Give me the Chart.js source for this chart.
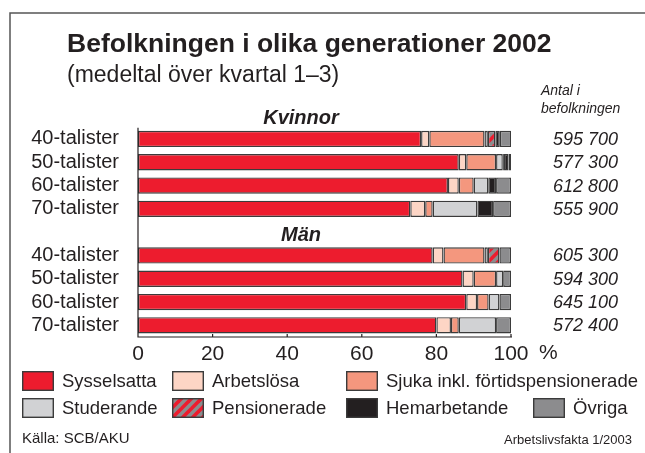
<!DOCTYPE html>
<html><head><meta charset="utf-8">
<script src="https://cdn.jsdelivr.net/npm/chart.js@4"></script>
<style>html,body{margin:0;padding:0;background:#fff}#wrap{width:645px;height:453px;position:relative}canvas{display:block}</style>
</head><body><div id="wrap"><canvas id="c" width="645" height="453"></canvas></div>
<script>
const titleText = 'Befolkningen i olika generationer 2002';
const subtitleText = '(medeltal över kvartal 1–3)';
const groups = ['Kvinnor', 'Män'];
const generations = ['40-talister', '50-talister', '60-talister', '70-talister'];
const populationLabels = ['595 700', '577 300', '612 800', '555 900', '605 300', '594 300', '645 100', '572 400'];
const seriesNames = ['Sysselsatta', 'Arbetslösa', 'Sjuka inkl. förtidspensionerade', 'Studerande', 'Pensionerade', 'Hemarbetande', 'Övriga'];
// values in %, Kvinnor 40-70 then Män 40-70
const sysselsatta  = [75.9, 86.0, 83.1, 73.0, 79.0, 87.0, 88.0, 80.0];
const arbetslosa   = [2.2, 2.0, 2.9, 4.0, 2.9, 3.0, 2.9, 3.9];
const sjuka        = [14.8, 8.0, 4.0, 2.0, 11.0, 6.0, 3.1, 2.1];
const studerande   = [0.9, 1.8, 3.9, 12.0, 0.9, 1.9, 2.9, 10.0];
const pensionerade = [2.0, 0.3, 0, 0, 3.1, 0, 0, 0];
const hemarbetande = [1.2, 1.2, 2.1, 4.2, 0, 0, 0, 0];
const ovriga       = [3.1, 0.7, 4.0, 4.8, 3.1, 2.1, 3.1, 4.0];
const xTicks = [0, 20, 40, 60, 80, 100];

const TEXT = '#231f20';
const EDGE = '#3b3b3b';
const FONT = '"Liberation Sans", Arial, Helvetica, sans-serif';

function hatch() {
  const t = document.createElement('canvas');
  t.width = 10; t.height = 10;
  const g = t.getContext('2d');
  g.fillStyle = '#8c8c8e'; g.fillRect(0, 0, 10, 10);
  g.strokeStyle = '#ed1c2e'; g.lineWidth = 3.6;
  [[-10, 10, 10, -10], [0, 10, 10, 0], [0, 20, 20, 0]].forEach(l => {
    g.beginPath(); g.moveTo(l[0], l[1]); g.lineTo(l[2], l[3]); g.stroke();
  });
  return g.createPattern(t, 'repeat');
}
const hatchPattern = hatch();
const seriesColors = ['#ed1c2e', '#fdd5c5', '#f4977e', '#d1d2d4', hatchPattern, '#231f20', '#8c8c8e'];
const seriesValues = [sysselsatta, arbetslosa, sjuka, studerande, pensionerade, hemarbetande, ovriga];

// slots: heading, 4 generations, heading, 4 generations
const slotLabels = [];
const slotMap = [];
const headingSlots = [];
groups.forEach((g, gi) => {
  headingSlots.push(slotLabels.length);
  slotLabels.push(''); slotMap.push(-1);
  generations.forEach((gen, i) => { slotLabels.push(gen); slotMap.push(gi * generations.length + i); });
});

const datasets = seriesNames.map((name, si) => ({
  label: name,
  data: slotMap.map(k => (k < 0 || !seriesValues[si][k]) ? null : seriesValues[si][k]),
  backgroundColor: seriesColors[si],
  borderColor: EDGE,
  borderWidth: 1.4,
  borderSkipped: false,
  barPercentage: 0.7,
  categoryPercentage: 1.0
}));

const overlay = {
  id: 'overlay',
  afterDraw(chart) {
    const ctx = chart.ctx;
    const xs = chart.scales.x, ys = chart.scales.y;
    const ca = chart.chartArea;
    ctx.save();
    // frame
    ctx.strokeStyle = '#555'; ctx.lineWidth = 1.5;
    ctx.beginPath(); ctx.moveTo(10, 453); ctx.lineTo(10, 13); ctx.lineTo(645, 13); ctx.stroke();
    ctx.fillStyle = TEXT;
    ctx.textBaseline = 'middle';
    ctx.textAlign = 'left';
    ctx.font = 'bold 26.5px ' + FONT;
    ctx.fillText(titleText, 67, 45);
    ctx.font = '23px ' + FONT;
    ctx.fillText(subtitleText, 67, 76);
    ctx.font = 'italic 14px ' + FONT;
    ctx.fillText('Antal i', 541, 91);
    ctx.fillText('befolkningen', 541, 109);
    // group headings
    ctx.textAlign = 'center';
    ctx.font = 'italic bold 20px ' + FONT;
    headingSlots.forEach((s, gi) => ctx.fillText(groups[gi], 301, ys.getPixelForValue(s) + 3));
    // population values
    ctx.textAlign = 'left';
    ctx.font = 'italic 18px ' + FONT;
    slotMap.forEach((k, s) => { if (k >= 0) ctx.fillText(populationLabels[k], 553, ys.getPixelForValue(s) + 1); });
    // axes
    const slot = ys.getPixelForValue(1) - ys.getPixelForValue(0);
    ctx.strokeStyle = TEXT; ctx.lineWidth = 1.2;
    ctx.beginPath();
    ctx.moveTo(ca.left, ys.getPixelForValue(1) - slot / 2 + 0.5);
    ctx.lineTo(ca.left, ca.bottom);
    ctx.lineTo(xs.getPixelForValue(100) + 1, ca.bottom);
    xTicks.forEach(v => { const x = xs.getPixelForValue(v); ctx.moveTo(x, ca.bottom); ctx.lineTo(x, ca.bottom - 3); });
    ctx.stroke();
    ctx.font = '21px ' + FONT;
    ctx.fillText('%', 539, 353);
    // legend
    const rows = [381, 408];
    const legendPos = [[22, 0], [172, 0], [346, 0], [22, 1], [172, 1], [346, 1], [533, 1]];
    ctx.font = '18.5px ' + FONT;
    seriesNames.forEach((name, i) => {
      const x = legendPos[i][0], y = rows[legendPos[i][1]];
      ctx.fillStyle = seriesColors[i];
      ctx.fillRect(x, y - 10, 32, 20);
      ctx.strokeStyle = EDGE; ctx.lineWidth = 1.4;
      ctx.strokeRect(x + 0.7, y - 9.3, 30.6, 18.6);
      ctx.fillStyle = TEXT;
      ctx.fillText(name, x + 40, y + 1);
    });
    ctx.font = '15px ' + FONT;
    ctx.fillText('Källa: SCB/AKU', 22, 439);
    ctx.textAlign = 'right';
    ctx.font = '13px ' + FONT;
    ctx.fillText('Arbetslivsfakta 1/2003', 632, 440);
    ctx.restore();
  }
};

new Chart(document.getElementById('c'), {
  type: 'bar',
  data: { labels: slotLabels, datasets },
  options: {
    indexAxis: 'y',
    responsive: false,
    animation: false,
    devicePixelRatio: 1,
    layout: { padding: { left: 0, right: 134, top: 104, bottom: 0 } },
    plugins: { legend: { display: false }, tooltip: { enabled: false }, title: { display: false } },
    scales: {
      x: {
        stacked: true, min: 0, max: 100,
        afterFit(s) { s.height = 116; },
        afterBuildTicks(s) { s.ticks = xTicks.map(v => ({ value: v })); },
        grid: { display: false, drawTicks: false, tickLength: 0 },
        border: { display: false },
        ticks: { color: TEXT, font: { family: FONT, size: 21 }, padding: 5, maxRotation: 0 }
      },
      y: {
        stacked: true,
        afterFit(s) { s.width = 138; },
        grid: { display: false, drawTicks: false, tickLength: 0 },
        border: { display: false },
        ticks: { color: TEXT, font: { family: FONT, size: 20 }, padding: 19, autoSkip: false }
      }
    }
  },
  plugins: [overlay]
});
</script>
</body></html>
